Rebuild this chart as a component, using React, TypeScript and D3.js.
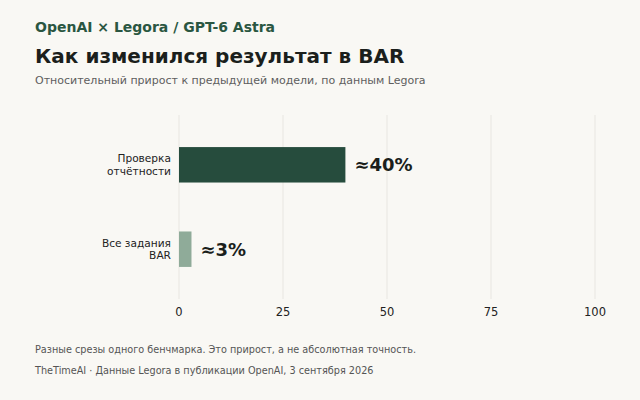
import * as d3 from "d3";

const categories = ["Проверка отчётности", "Все задания BAR"];
const categoryLines = [["Проверка", "отчётности"], ["Все задания", "BAR"]];
const gains = [40, 3];
const valueLabels = ["≈40%", "≈3%"];
const barColors = ["#264c3d", "#8fab99"];
const ticks = [0, 25, 50, 75, 100];

const W = 640;
const H = 400;
const FONT = "'DejaVu Sans', sans-serif";

export default function App() {
  const x = d3.scaleLinear().domain([0, 100]).range([179, 595]);
  const y = d3
    .scaleBand<string>()
    .domain(categories)
    .range([115, 299])
    .paddingInner(0.58)
    .paddingOuter(0.38);

  return (
    <svg
      width={W}
      height={H}
      style={{ position: "absolute", left: 0, top: 0, background: "#f9f8f4" }}
      fontFamily={FONT}
    >
      <rect width={W} height={H} fill="#f9f8f4" />

      {/* header */}
      <text x={35} y={32} fontSize={14} fontWeight="bold" fill="#2a5641">
        OpenAI × Legora / GPT-6 Astra
      </text>
      <text x={35} y={63} fontSize={20} fontWeight="bold" fill="#1b1f1c">
        Как изменился результат в BAR
      </text>
      <text x={35} y={83.5} fontSize={11} fill="#5e5e5e">
        Относительный прирост к предыдущей модели, по данным Legora
      </text>

      {/* grid */}
      {ticks.map((t) => (
        <g key={t}>
          <line x1={x(t)} x2={x(t)} y1={115} y2={299} stroke="#e8e6e1" strokeWidth={1} />
          <text x={x(t)} y={316} fontSize={11.5} textAnchor="middle" fill="#222">
            {t}
          </text>
        </g>
      ))}

      {/* bars */}
      {categories.map((c, i) => {
        const y0 = y(c) || 0;
        const mid = y0 + y.bandwidth() / 2;
        return (
          <g key={c}>
            <rect
              x={x(0)}
              y={y0}
              width={x(gains[i]) - x(0)}
              height={y.bandwidth()}
              fill={barColors[i]}
            />
            <text
              x={x(gains[i]) + 9}
              y={mid}
              dy="0.36em"
              fontSize={18}
              fontWeight="bold"
              fill="#1b1f1c"
            >
              {valueLabels[i]}
            </text>
            {categoryLines[i].map((line, j) => (
              <text
                key={j}
                x={171}
                y={mid + (j - 0.5) * 12.5}
                dy="0.36em"
                fontSize={10.6}
                textAnchor="end"
                fill="#222"
              >
                {line}
              </text>
            ))}
          </g>
        );
      })}

      {/* footer */}
      <text x={35} y={353} fontSize={9.7} fill="#555">
        Разные срезы одного бенчмарка. Это прирост, а не абсолютная точность.
      </text>
      <text x={35} y={374} fontSize={9.7} fill="#555">
        TheTimeAI · Данные Legora в публикации OpenAI, 3 сентября 2026
      </text>
    </svg>
  );
}
